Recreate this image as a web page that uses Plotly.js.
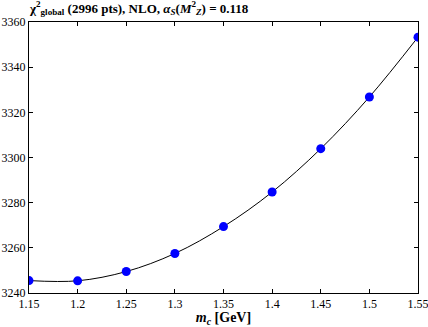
<!DOCTYPE html>
<html><head><meta charset="utf-8">
<script src="https://cdn.plot.ly/plotly-3.0.1.min.js"></script>
<style>html,body{margin:0;padding:0;background:#fff;}#chart{width:428px;height:327px;}</style>
</head><body><div id="chart"></div>
<script>
const mc = [1.15, 1.2, 1.25, 1.3, 1.35, 1.4, 1.45, 1.5, 1.55];
const chi2 = [3245.5, 3245.4, 3249.5, 3257.5, 3269.4, 3284.7, 3303.9, 3326.8, 3353.3];
const xTicks = [1.15, 1.2, 1.25, 1.3, 1.35, 1.4, 1.45, 1.5, 1.55];
const xTickText = ["1.15", "1.2", "1.25", "1.3", "1.35", "1.4", "1.45", "1.5", "1.55"];
const yTicks = [3240, 3260, 3280, 3300, 3320, 3340, 3360];

const data = [
  {x: mc, y: chi2, mode: 'lines', type: 'scatter', line: {color: '#000', width: 1, shape: 'spline', smoothing: 1}, hoverinfo: 'skip'},
  {x: mc, y: chi2, mode: 'markers', type: 'scatter', marker: {color: '#0000ff', size: 9}}
];
const layout = {
  width: 428, height: 327,
  margin: {l: 29, r: 10, t: 22, b: 34},
  paper_bgcolor: '#fff', plot_bgcolor: '#fff',
  showlegend: false,
  font: {family: 'Liberation Serif, serif', size: 12, color: '#000'},
  title: {text: '<b>χ<sup>2</sup><sub>global</sub> (2996 pts), NLO, <i>α<sub>S</sub></i>(<i>M</i><sup>2</sup><sub><i>Z</i></sub>) = 0.118</b>',
    x: 30/428, xanchor: 'left', y: 0.975, yanchor: 'middle',
    font: {family: 'Liberation Serif, serif', size: 13, color: '#000'}},
  xaxis: {range: [1.15, 1.55], tickvals: xTicks, ticktext: xTickText,
    showline: true, linecolor: '#000', linewidth: 1, mirror: 'ticks',
    ticks: 'inside', ticklen: 4, tickcolor: '#000', showgrid: false, zeroline: false,
    ticklabeloverflow: 'allow',
    tickfont: {family: 'Liberation Serif, serif', size: 12, color: '#000'},
    title: {text: '<b><i>m</i><sub><i>c</i></sub> [GeV]</b>', font: {family: 'Liberation Serif, serif', size: 14, color: '#000'}, standoff: 4}},
  yaxis: {range: [3240, 3360], tickvals: yTicks,
    showline: true, linecolor: '#000', linewidth: 1, mirror: 'ticks',
    ticks: 'inside', ticklen: 4, tickcolor: '#000', showgrid: false, zeroline: false,
    tickfont: {family: 'Liberation Serif, serif', size: 12, color: '#000'}}
};
Plotly.newPlot('chart', data, layout, {displayModeBar: false, staticPlot: true});
</script></body></html>
